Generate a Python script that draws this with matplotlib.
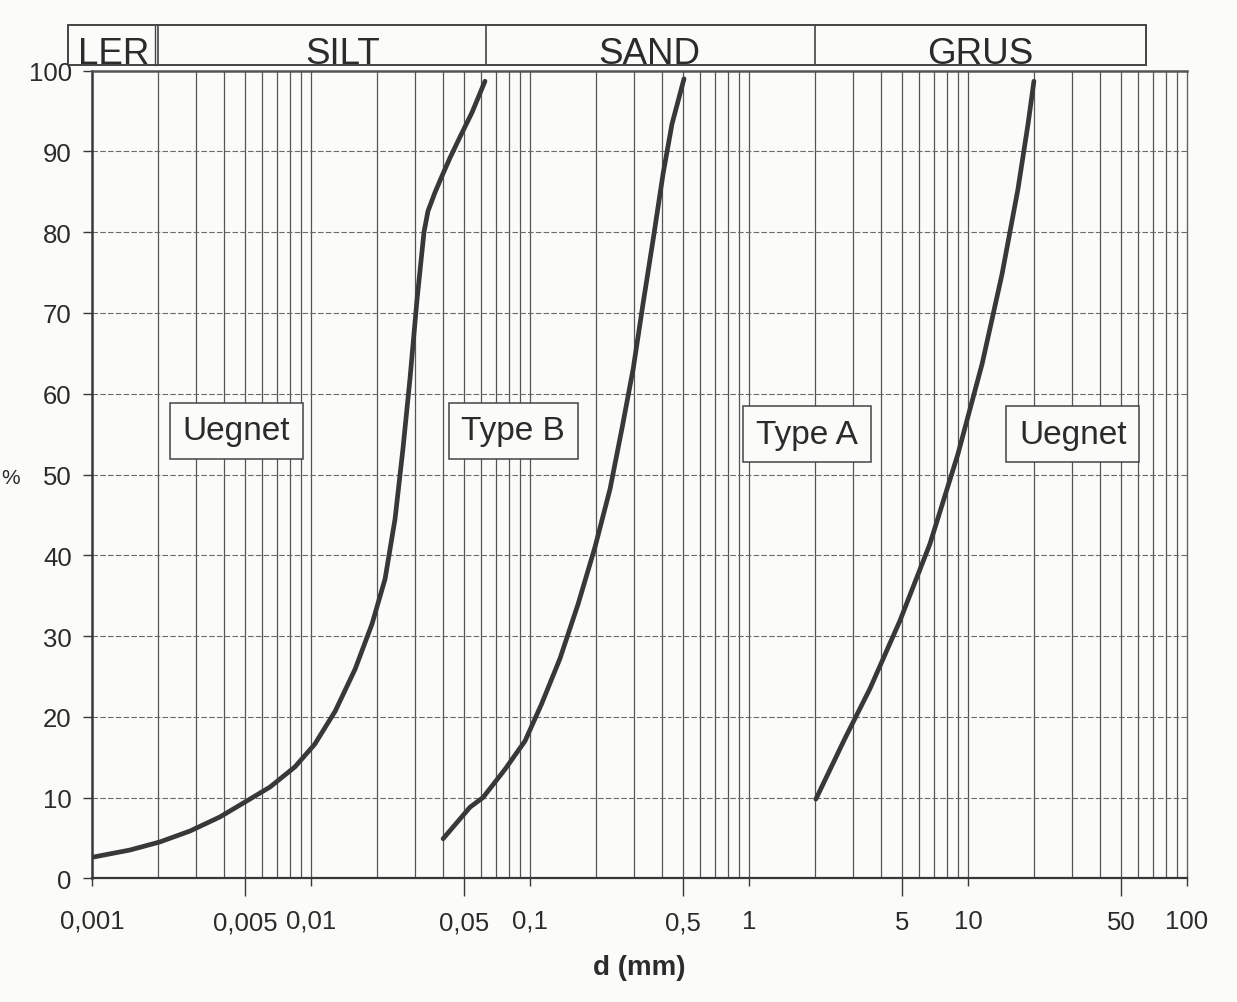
import numpy as np
import matplotlib
matplotlib.use("Agg")
import matplotlib.pyplot as plt
from matplotlib.patches import Rectangle

plt.rcParams['font.family'] = ['Liberation Sans', 'DejaVu Sans']

# ---------------- data ----------------
curve1_d = [0.001, 0.00149, 0.00204, 0.0028, 0.00384, 0.005, 0.0065, 0.00845, 0.0104,
            0.0129, 0.0159, 0.019, 0.0218, 0.0242, 0.0263, 0.0283, 0.0305, 0.0328,
            0.0342, 0.0368, 0.0397, 0.0431, 0.0479, 0.0543, 0.0623]
curve1_p = [2.6, 3.5, 4.5, 5.85, 7.6, 9.45, 11.3, 13.8, 16.6, 20.7, 25.9, 31.5, 37.1,
            44.5, 53.2, 61.8, 71.7, 80.0, 82.6, 84.9, 87.0, 89.2, 91.8, 94.8, 98.7]

curve2_d = [0.0401, 0.0532, 0.061, 0.0769, 0.0949, 0.113, 0.137, 0.166, 0.198, 0.232,
            0.263, 0.296, 0.328, 0.365, 0.405, 0.445, 0.505]
curve2_p = [4.9, 8.8, 10.0, 13.5, 17.0, 21.6, 27.2, 34.0, 41.0, 48.2, 55.7, 63.1,
            71.1, 79.1, 87.2, 93.4, 99.0]

curve3_d = [2.02, 2.74, 3.57, 4.89, 6.7, 8.99, 11.6, 14.3, 16.9, 18.8, 20.0]
curve3_p = [9.8, 17.3, 23.5, 31.9, 41.4, 52.5, 63.7, 74.8, 85.3, 93.4, 98.7]

major_ticks = [0.001, 0.01, 0.1, 1, 10, 100]
major_labels = ["0,001", "0,01", "0,1", "1", "10", "100"]
half_ticks = [0.005, 0.05, 0.5, 5, 50]
half_labels = ["0,005", "0,05", "0,5", "5", "50"]
y_ticks = [0, 10, 20, 30, 40, 50, 60, 70, 80, 90, 100]

band_edges = [0.00078, 0.002, 0.063, 2, 65]
band_names = ["LER", "SILT", "SAND", "GRUS"]
band_label_x = [0.00125, 0.0140, 0.352, 11.4]

zone_names = ["Uegnet", "Type B", "Type A", "Uegnet"]
zone_x = [0.00455, 0.0837, 1.84, 30.1]
zone_y = [55.4, 55.4, 55.0, 55.0]

# ---------------- figure ----------------
W, H = 1237, 1003
fig = plt.figure(figsize=(W / 100, H / 100), dpi=100)
bg = '#fbfbf9'
fig.patch.set_facecolor(bg)
txt = '#2b2b2b'

L, R, T, B = 92, 1187, 71.7, 879.3
ax = fig.add_axes([L / W, 1 - B / H, (R - L) / W, (B - T) / H])
ax.set_facecolor(bg)
ax.set_xscale('log')
ax.set_xlim(0.001, 100)
ax.set_ylim(0, 100)

ink = '#383838'
grid_c = '#555555'

# vertical grid lines (1..9 in each decade)
for dec in [0.001, 0.01, 0.1, 1, 10]:
    for k in range(2, 10):
        ax.axvline(dec * k, color=grid_c, lw=0.9, zorder=1)
for dec in [0.01, 0.1, 1, 10]:
    ax.axvline(dec, color=grid_c, lw=0.9, zorder=1)

# horizontal grid lines
for yv in y_ticks[1:-1]:
    ax.axhline(yv, color='#6a6a6a', lw=0.8, ls=(0, (5, 2)), zorder=1)

for s in ['top', 'right', 'left', 'bottom']:
    ax.spines[s].set_color(ink)
ax.spines['bottom'].set_linewidth(1.6)
ax.spines['left'].set_linewidth(1.8)
ax.spines['top'].set_linewidth(1.8)
ax.spines['top'].set_color('#555555')
ax.spines['right'].set_linewidth(1.0)
ax.spines['right'].set_linestyle((0, (2, 1)))
ax.spines['right'].set_color('#666666')

# x ticks
ax.set_xticks(major_ticks)
ax.set_xticklabels(major_labels)
ax.set_xticks(half_ticks, minor=True)
ax.set_xticklabels(half_labels, minor=True)
ax.tick_params(axis='x', which='major', length=6, width=1.0, color=ink, pad=16,
               labelsize=18.5, labelcolor=txt, direction='out')
ax.tick_params(axis='x', which='minor', length=13, width=1.0, color=ink, pad=10,
               labelsize=18.5, labelcolor=txt, direction='out')
ax.set_yticks(y_ticks)
ax.set_yticklabels([str(v) for v in y_ticks])
ax.tick_params(axis='y', length=6.5, width=1.0, color=ink, pad=8,
               labelsize=18.5, labelcolor=txt)
ax.yaxis.set_minor_locator(matplotlib.ticker.NullLocator())

ax.set_xlabel("d (mm)", fontsize=20, fontweight='bold', color=txt, labelpad=14)
fig.text(1 / W, 1 - 478 / H, "%", fontsize=15, color=txt, ha='left', va='center')

# curves
for d, p in [(curve1_d, curve1_p), (curve2_d, curve2_p), (curve3_d, curve3_p)]:
    ax.plot(d, p, color=ink, lw=3.4, solid_capstyle='round', solid_joinstyle='round',
            zorder=4)

# zone labels
for name, xv, yv in zip(zone_names, zone_x, zone_y):
    ax.text(xv, yv, name, fontsize=24, color=txt, ha='center', va='center',
            zorder=5,
            bbox=dict(boxstyle='square,pad=0.38', facecolor=bg, edgecolor='#444444', lw=1.1))

# top band
bax = fig.add_axes([L / W, 1 - 65.7 / H, (R - L) / W, 40 / H])
bax.set_xscale('log')
bax.set_xlim(0.001, 100)
bax.set_ylim(0, 1)
bax.axis('off')
bax.add_patch(Rectangle((band_edges[0], 0), band_edges[-1] - band_edges[0], 1,
                        facecolor='none', edgecolor='#444444', lw=1.4, clip_on=False))
for e in band_edges[1:-1]:
    bax.plot([e, e], [0, 1], color='#444444', lw=1.2, clip_on=False)
bax.plot([0.00194, 0.00194], [0, 1], color='#444444', lw=1.0, clip_on=False)
for name, xv in zip(band_names, band_label_x):
    bax.text(xv, 0.04, name, fontsize=26.5, color=txt, ha='center', va='baseline')

fig.savefig("out.png", dpi=100, facecolor=bg)
